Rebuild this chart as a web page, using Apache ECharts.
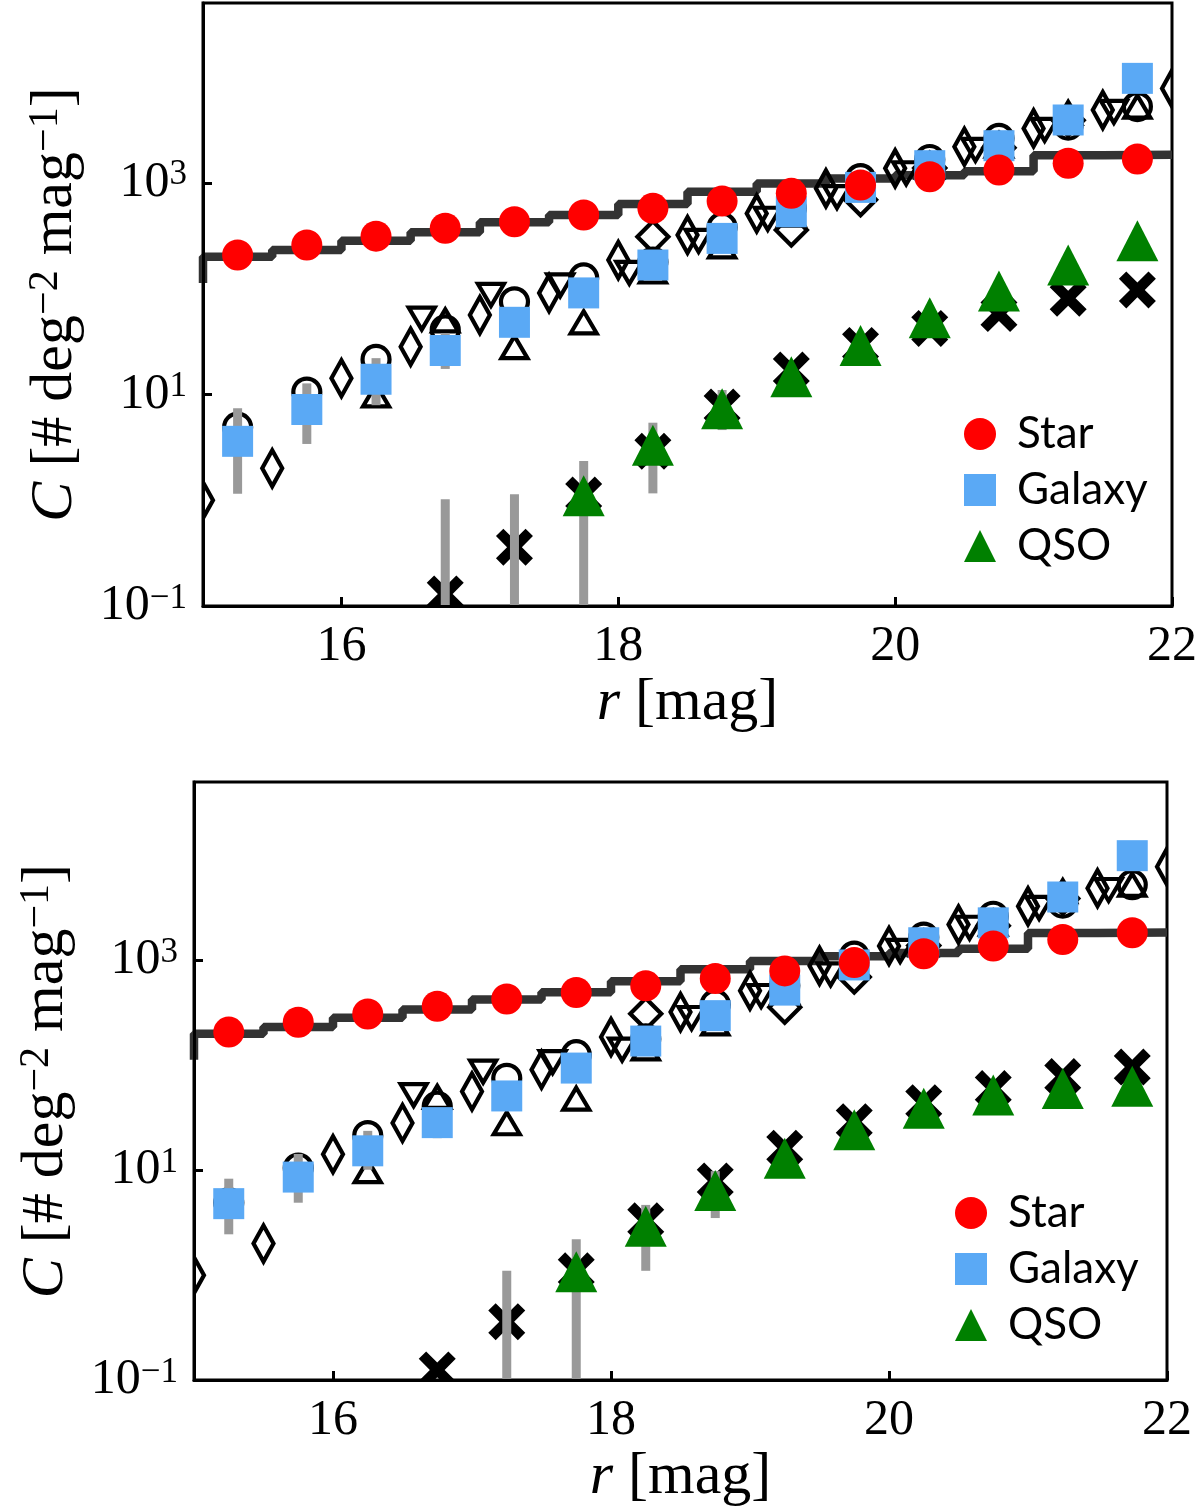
<!DOCTYPE html>
<html lang="en">
<head>
<meta charset="UTF-8">
<title>Number counts per magnitude bin</title>
<script src="https://cdn.jsdelivr.net/npm/echarts@6.0.0/dist/echarts.min.js"></script>
<style>
    html, body { margin: 0; padding: 0; background: #fff; }
    #main { width: 1200px; height: 1508px; }
</style>
</head>
<body>
<div id="main"></div>
<script>
// magnitude bins (0.5 mag wide)
const binCenters = [15.25, 15.75, 16.25, 16.75, 17.25, 17.75, 18.25, 18.75, 19.25, 19.75, 20.25, 20.75, 21.25, 21.75];
const halfMags = [15.0, 15.5, 16.0, 16.5, 17.0, 17.5, 18.0, 18.5, 19.0, 19.5, 20.0, 20.5, 21.0, 21.5, 22.0];
const xTicks = [16, 18, 20, 22];
const yTicks = [0.1, 10, 1000];

// star model, drawn as a step line (bin edges / levels)
const stepEdges = [15.0, 15.0, 15.5, 16.0, 16.5, 17.0, 17.5, 18.0, 18.5, 19.0, 19.5, 20.0, 20.5, 21.0, 21.5, 22.0];
const stepLevels = [113, 200, 231, 283, 340, 423, 495, 631, 822, 986, 1096, 1175, 1288, 1820, 1841, 1841];

// reference counts (black open markers, same in both panels)
const refCircle = [4.9, 10.5, 21.4, 40.7, 75, 126, 178, 380, 575, 1096, 1660, 2630, 3510, 5250];
const refTriUpX = [16.25, 16.75, 17.25, 17.75, 18.25, 18.75, 19.25, 19.75, 20.25, 20.75, 21.25, 21.75];
const refTriUp = [9.8, 50, 28, 48, 145, 251, 501, 891, 1413, 2239, 4571, 5248];
const refTriDownX = [16.58, 17.08, 17.58, 18.08, 18.58, 19.08, 19.58, 20.08, 20.58, 21.08, 21.58];
const refTriDown = [52, 87, 107, 141, 282, 457, 733, 1230, 2042, 3162, 4677];
const refThinDiamond = [1.0, 2.0, 14.2, 28.2, 56.2, 90.6, 186, 321, 513, 885, 1368, 2188, 3266, 4864, 7798];
const refDiamondX = [18.25, 19.25, 19.75, 20.25, 20.75, 21.25];
const refDiamond = [309, 357, 692, 1380, 2138, 3890];

// QSO / cross bins
const qsoX = [17.75, 18.25, 18.75, 19.25, 19.75, 20.25, 20.75, 21.25, 21.75];
const crossX = [16.75, 17.25, 17.75, 18.25, 18.75, 19.25, 19.75, 20.25, 20.75, 21.25, 21.75];

// top panel
const starTop = [208, 258, 313, 371, 428, 495, 573, 671, 794, 951, 1140, 1318, 1525, 1675];
const galaxyTop = [3.6, 7.2, 13.9, 26, 48, 91, 167, 298, 532, 904, 1450, 2240, 3920, 9700];
const qsoTop = [1.1, 3.3, 7.3, 14.7, 29, 53, 95, 167, 283];
const crossTop = [0.13, 0.36, 1.12, 2.9, 7.6, 17, 29, 42, 58, 81, 97];
const galErrXTop = [15.25, 15.75, 16.25, 16.75];
const galErrLoTop = [1.15, 3.4, 7.9, 17.4];
const galErrHiTop = [7.4, 12.7, 22, 38];
const qsoErrXTop = [16.75, 17.25, 17.75, 18.25, 18.75];
const qsoErrLoTop = [0.01, 0.01, 0.01, 1.16, 4.6];
const qsoErrHiTop = [1.02, 1.14, 2.35, 5.4, 11];

// bottom panel
const starBot = [207, 257, 308, 365, 428, 494, 571, 671, 793, 951, 1156, 1365, 1581, 1828];
const galaxyBot = [4.8, 8.6, 15.3, 28.4, 51, 94, 170, 297, 520, 903, 1470, 2275, 4010, 9930];
const qsoBot = [1.08, 2.92, 6.4, 13.0, 24.3, 39, 52, 60, 63];
const crossBot = [0.125, 0.36, 1.1, 3.3, 7.9, 16.2, 29, 44, 60, 78, 96];
const galErrXBot = [15.25, 15.75, 16.25, 16.75];
const galErrLoBot = [2.45, 4.9, 10.1, 20.2];
const galErrHiBot = [8.3, 14.3, 23.7, 38];
const qsoErrXBot = [17.25, 17.75, 18.25, 18.75];
const qsoErrLoBot = [0.01, 0.01, 1.1, 3.5];
const qsoErrHiBot = [1.1, 2.2, 4.67, 9.8];

const serif = 'Liberation Serif';

function zip(xs, ys) {
    return xs.map(function (x, i) { return [x, ys[i]]; });
}

// marker outline, relative to its centre (w, h = full size)
function markerPoints(kind, x, y, w, h) {
    const a = w / 2, b = h / 2;
    if (kind === 'up') return [[x, y - b], [x + a, y + b], [x - a, y + b]];
    if (kind === 'down') return [[x, y + b], [x + a, y - b], [x - a, y - b]];
    if (kind === 'diamond') return [[x, y - b], [x + a, y], [x, y + b], [x - a, y]];
    // thick X
    const t = 0.2, m = 0.3;
    const u = [[0, t], [t, 0], [0.5, m], [1 - t, 0], [1, t], [1 - m, 0.5], [1, 1 - t], [1 - t, 1], [0.5, 1 - m], [t, 1], [0, 1 - t], [m, 0.5]];
    return u.map(function (q) { return [x - a + q[0] * w, y - b + q[1] * h]; });
}

// black markers as a custom series so they get clipped at the frame
function blackMarker(p, xs, ys, kind, w, h, filled) {
    const style = filled
        ? { fill: '#000', stroke: null }
        : { fill: 'none', stroke: '#000', lineWidth: 4.2, lineJoin: 'miter' };
    return {
        type: 'custom', xAxisIndex: p, yAxisIndex: p, z: 2, clip: true, silent: true,
        data: zip(xs, ys), encode: { x: 0, y: 1 },
        renderItem: function (params, api) {
            const c = api.coord([api.value(0), api.value(1)]);
            if (kind === 'circle') {
                return { type: 'circle', shape: { cx: c[0], cy: c[1], r: w / 2 }, style: style };
            }
            return { type: 'polygon', shape: { points: markerPoints(kind, c[0], c[1], w, h) }, style: style };
        }
    };
}

function errorBars(p, xs, lo, hi) {
    return {
        type: 'custom', xAxisIndex: p, yAxisIndex: p, z: 3, clip: true, silent: true,
        data: xs.map(function (x, i) { return [x, lo[i], hi[i]]; }),
        encode: { x: 0, y: [1, 2] },
        renderItem: function (params, api) {
            const a = api.coord([api.value(0), api.value(1)]);
            const b = api.coord([api.value(0), api.value(2)]);
            return {
                type: 'line',
                shape: { x1: a[0], y1: a[1], x2: b[0], y2: b[1] },
                style: { stroke: '#999999', lineWidth: 9 }
            };
        }
    };
}

function panelSeries(p, star, galaxy, qso, cross, gx, glo, ghi, qx, qlo, qhi) {
    return [
        {
            type: 'line', xAxisIndex: p, yAxisIndex: p, z: 1, silent: true,
            step: 'end', data: zip(stepEdges, stepLevels), showSymbol: false,
            lineStyle: { color: '#333333', width: 8.5 }
        },
        blackMarker(p, binCenters, refCircle, 'circle', 27, 27),
        blackMarker(p, refTriUpX, refTriUp, 'up', 26, 22),
        blackMarker(p, refTriDownX, refTriDown, 'down', 26, 22),
        blackMarker(p, halfMags, refThinDiamond, 'diamond', 20, 36),
        blackMarker(p, refDiamondX, refDiamond, 'diamond', 31, 31),
        blackMarker(p, crossX, cross, 'cross', 37, 37, true),
        errorBars(p, gx, glo, ghi),
        errorBars(p, qx, qlo, qhi),
        {
            name: 'Galaxy', type: 'scatter', xAxisIndex: p, yAxisIndex: p, z: 4,
            data: zip(binCenters, galaxy), symbol: 'rect', symbolSize: 31,
            itemStyle: { color: '#5aa9f5', opacity: 1 }
        },
        {
            name: 'QSO', type: 'scatter', xAxisIndex: p, yAxisIndex: p, z: 4,
            data: zip(qsoX, qso), symbol: 'triangle', symbolSize: [42, 41],
            itemStyle: { color: '#008000', opacity: 1 }
        },
        {
            name: 'Star', type: 'scatter', xAxisIndex: p, yAxisIndex: p, z: 5,
            data: zip(binCenters, star), symbol: 'circle', symbolSize: 31,
            itemStyle: { color: '#ff0000', opacity: 1 }
        }
    ];
}

function xAxis(p) {
    return {
        type: 'value', gridIndex: p, min: 15, max: 22, z: 10,
        axisLine: { show: true, onZero: false, lineStyle: { color: '#000', width: 3 } },
        axisTick: { show: true, inside: true, length: 9, customValues: xTicks, lineStyle: { color: '#000', width: 3 } },
        axisLabel: { customValues: xTicks, fontFamily: serif, fontSize: 50, color: '#000', margin: 16 },
        splitLine: { show: false },
        name: '{it|r} [mag]', nameLocation: 'middle', nameGap: 50,
        nameTextStyle: {
            fontFamily: serif, fontSize: 60, color: '#000',
            rich: { it: { fontFamily: serif, fontSize: 60, fontStyle: 'italic', color: '#000' } }
        }
    };
}

function yAxis(p) {
    return {
        type: 'log', logBase: 10, gridIndex: p, min: 0.1, max: 50000, z: 10,
        axisLine: { show: true, onZero: false, lineStyle: { color: '#000', width: 3 } },
        axisTick: { show: true, inside: true, length: 9, customValues: yTicks, lineStyle: { color: '#000', width: 3 } },
        axisLabel: {
            customValues: yTicks, fontFamily: serif, fontSize: 50, color: '#000', margin: 16,
            formatter: function (v) {
                const e = Math.round(Math.log10(v));
                return '10{sup|' + (e < 0 ? '\u2212' + (-e) : e) + '}';
            },
            rich: { sup: { fontFamily: serif, fontSize: 35, color: '#000', verticalAlign: 'top' } }
        },
        splitLine: { show: false },
        name: '{it|C} [# deg{sup|\u22122} mag{sup|\u22121}]', nameLocation: 'middle', nameGap: 118, nameRotate: 90,
        nameTextStyle: {
            fontFamily: serif, fontSize: 60, color: '#000',
            rich: {
                it: { fontFamily: serif, fontSize: 60, fontStyle: 'italic', color: '#000' },
                sup: { fontFamily: serif, fontSize: 42, color: '#000', verticalAlign: 'top' }
            }
        }
    };
}

const legendItems = [
    { name: 'Star', icon: 'circle' },
    { name: 'Galaxy', icon: 'rect' },
    { name: 'QSO', icon: 'triangle' }
];

function legend(left, top, pad) {
    return {
        data: legendItems, orient: 'vertical', left: left, top: top,
        itemWidth: 32, itemHeight: 32, itemGap: 12, selectedMode: false,
        textStyle: { fontFamily: 'Lato', fontSize: 44, color: '#000', padding: [0, 0, 0, pad] }
    };
}

const chart = echarts.init(document.getElementById('main'), null, { renderer: 'canvas' });
chart.setOption({
    animation: false,
    backgroundColor: '#fff',
    grid: [
        { left: 203, top: 3, width: 973, height: 603, show: true, borderColor: '#000', borderWidth: 3 },
        { left: 194, top: 782, width: 973, height: 602, show: true, borderColor: '#000', borderWidth: 3 }
    ],
    xAxis: [xAxis(0), xAxis(1)],
    yAxis: [yAxis(0), yAxis(1)],
    legend: [legend(959, 407, 16), legend(950, 1186, 16)],
    series: [].concat(
        panelSeries(0, starTop, galaxyTop, qsoTop, crossTop, galErrXTop, galErrLoTop, galErrHiTop, qsoErrXTop, qsoErrLoTop, qsoErrHiTop),
        panelSeries(1, starBot, galaxyBot, qsoBot, crossBot, galErrXBot, galErrLoBot, galErrHiBot, qsoErrXBot, qsoErrLoBot, qsoErrHiBot)
    )
});
</script>
</body>
</html>
